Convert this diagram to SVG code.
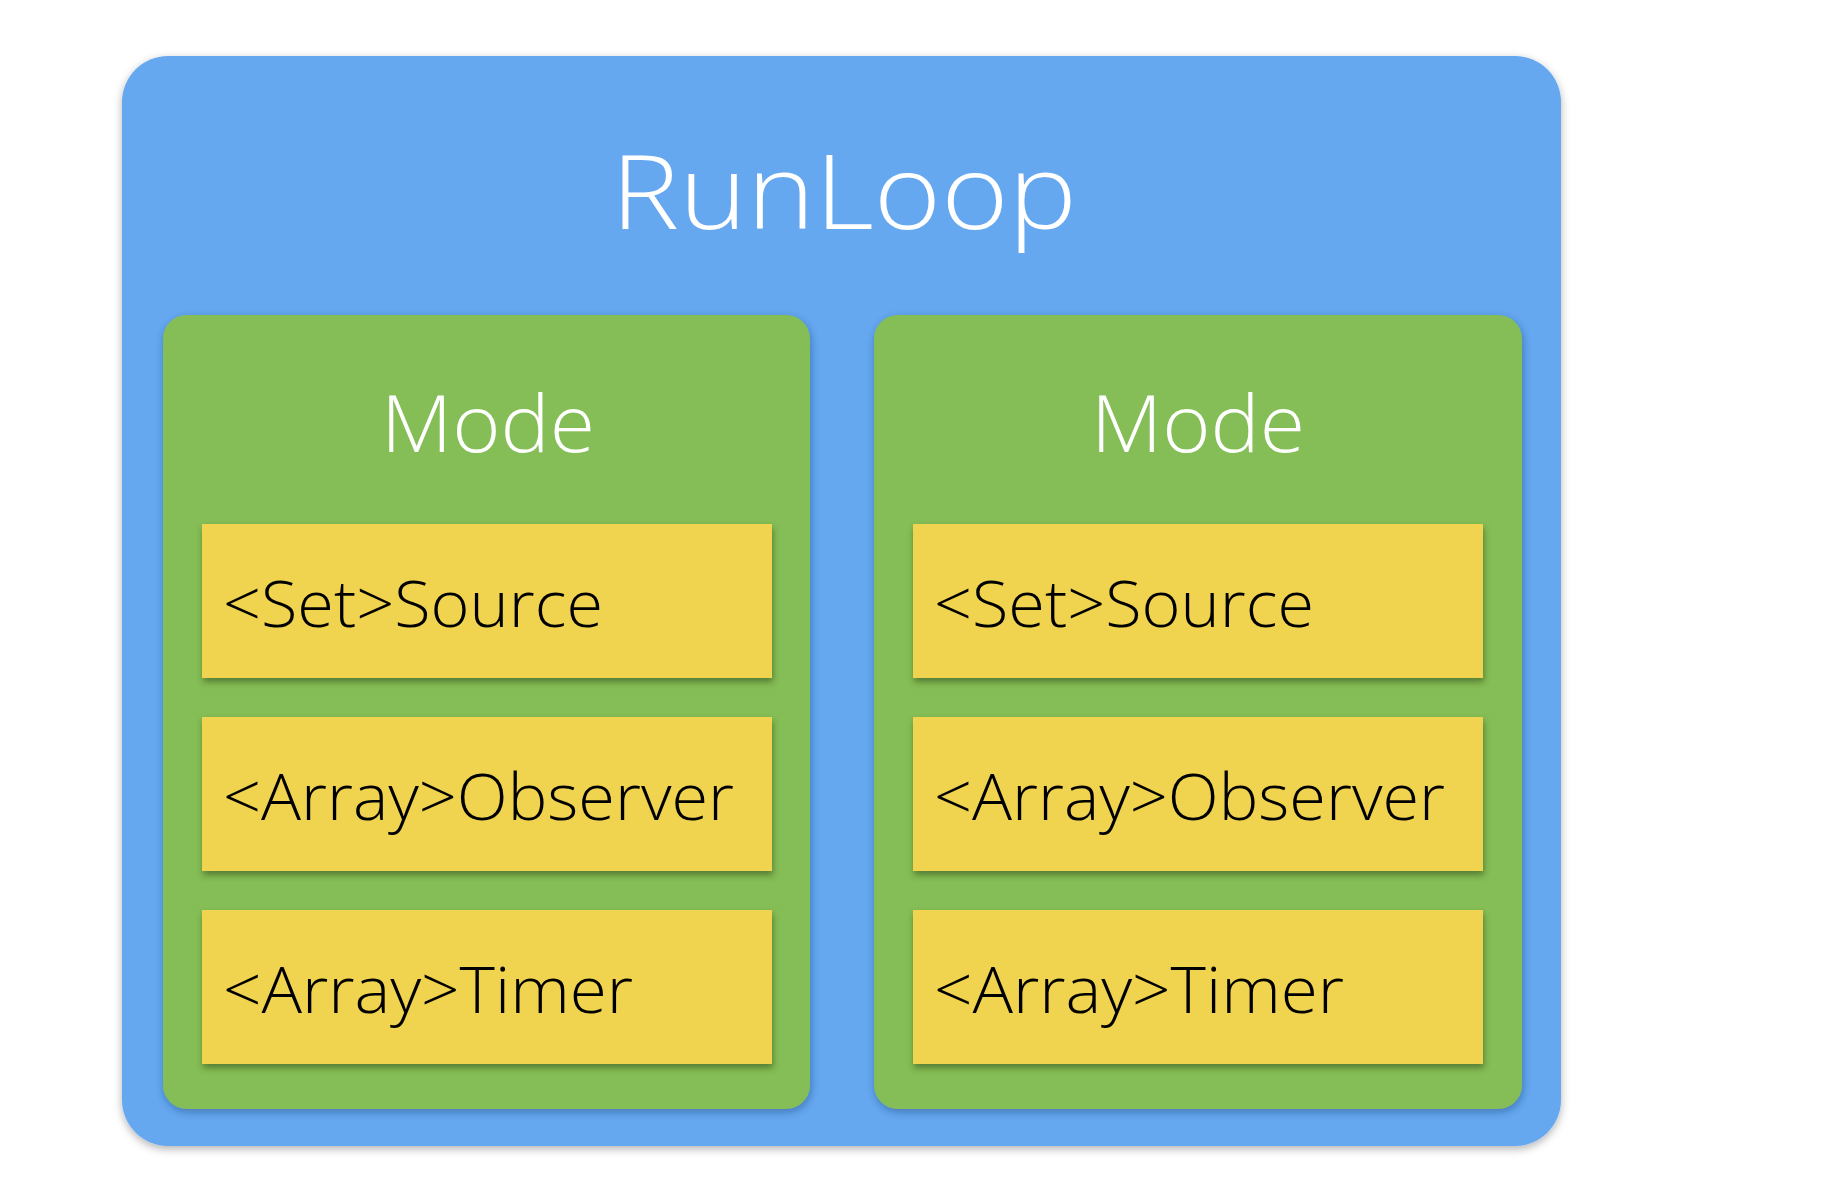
<svg xmlns="http://www.w3.org/2000/svg" width="1822" height="1204" viewBox="0 0 1822 1204">
  <defs>
    <filter id="shadowOuter" x="-5%" y="-5%" width="110%" height="110%">
      <feDropShadow dx="0" dy="3" stdDeviation="4" flood-color="#000" flood-opacity="0.3"/>
    </filter>
    <filter id="shadowMode" x="-5%" y="-5%" width="110%" height="110%">
      <feDropShadow dx="1" dy="3" stdDeviation="4" flood-color="#1d3d70" flood-opacity="0.45"/>
    </filter>
    <filter id="shadowItem" x="-5%" y="-10%" width="110%" height="125%">
      <feDropShadow dx="1" dy="4" stdDeviation="3" flood-color="#2e4a12" flood-opacity="0.55"/>
    </filter>
  </defs>
  <style>
    .runloop { fill: #66a8f0; }
    .mode { fill: #85bd57; }
    .item { fill: #f0d350; }
    .title { font-family: "Open Sans", "Liberation Sans", sans-serif; font-weight: 300; fill: #ffffff; }
    .label { font-family: "Open Sans", "Liberation Sans", sans-serif; font-weight: 300; font-size: 64px; fill: #000000; }
  </style>

  <rect width="1822" height="1204" fill="#ffffff"/>

  <!-- RunLoop container -->
  <g id="runloop">
    <rect class="runloop" x="122" y="56" width="1439" height="1090" rx="46" ry="46" filter="url(#shadowOuter)"/>
    <text class="title" x="611" y="229" font-size="104" textLength="466" lengthAdjust="spacingAndGlyphs">RunLoop</text>
  </g>

  <!-- Left mode -->
  <g id="mode-left">
    <rect class="mode" x="163" y="315" width="647" height="794" rx="24" ry="24" filter="url(#shadowMode)"/>
    <text class="title" x="381" y="452" font-size="80" textLength="214" lengthAdjust="spacingAndGlyphs">Mode</text>
  </g>
  <g id="left-source">
    <rect class="item" x="202" y="524" width="570" height="154" filter="url(#shadowItem)"/>
    <text class="label" x="223" y="627" textLength="380" lengthAdjust="spacingAndGlyphs">&lt;Set&gt;Source</text>
  </g>
  <g id="left-observer">
    <rect class="item" x="202" y="717" width="570" height="154" filter="url(#shadowItem)"/>
    <text class="label" x="223" y="820" textLength="511" lengthAdjust="spacingAndGlyphs">&lt;Array&gt;Observer</text>
  </g>
  <g id="left-timer">
    <rect class="item" x="202" y="910" width="570" height="154" filter="url(#shadowItem)"/>
    <text class="label" x="223" y="1013" textLength="410" lengthAdjust="spacingAndGlyphs">&lt;Array&gt;Timer</text>
  </g>

  <!-- Right mode -->
  <g id="mode-right">
    <rect class="mode" x="874" y="315" width="648" height="794" rx="24" ry="24" filter="url(#shadowMode)"/>
    <text class="title" x="1091" y="452" font-size="80" textLength="214" lengthAdjust="spacingAndGlyphs">Mode</text>
  </g>
  <g id="right-source">
    <rect class="item" x="913" y="524" width="570" height="154" filter="url(#shadowItem)"/>
    <text class="label" x="934" y="627" textLength="380" lengthAdjust="spacingAndGlyphs">&lt;Set&gt;Source</text>
  </g>
  <g id="right-observer">
    <rect class="item" x="913" y="717" width="570" height="154" filter="url(#shadowItem)"/>
    <text class="label" x="934" y="820" textLength="511" lengthAdjust="spacingAndGlyphs">&lt;Array&gt;Observer</text>
  </g>
  <g id="right-timer">
    <rect class="item" x="913" y="910" width="570" height="154" filter="url(#shadowItem)"/>
    <text class="label" x="934" y="1013" textLength="410" lengthAdjust="spacingAndGlyphs">&lt;Array&gt;Timer</text>
  </g>

  <!-- no connectors in this diagram -->
  <g id="connectors"/>
</svg>
